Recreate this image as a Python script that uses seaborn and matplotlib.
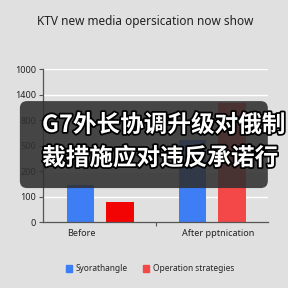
import matplotlib
matplotlib.use("Agg")
import matplotlib.pyplot as plt
import matplotlib.patheffects as pe
from matplotlib.patches import FancyBboxPatch, Patch
import seaborn as sns
import pandas as pd

categories = ["Before", "After pptnication"]
series = ["Syorathangle", "Operation strategies"]
blue_values = [145, 322]
red_values = [78, 467]
ytick_positions = [0, 100, 200, 300, 400, 500, 600]
ytick_labels = ["0", "100", "200", "500", "800", "1400", "1000"]
title = "KTV new media opersication now show"
overlay_lines = ["G7外长协调升级对俄制", "裁措施应对违反承诺行"]

sns.set_theme(style="white")
plt.rcParams['font.family'] = ['Noto Sans', 'DejaVu Sans']

bg = "#e0e0e0"
blue = "#3d7ef5"
red_before = "#f20404"
red_after = "#f44848"

df = pd.DataFrame({
    "cat": categories * 2,
    "series": [series[0]] * 2 + [series[1]] * 2,
    "value": blue_values + red_values,
})

fig = plt.figure(figsize=(2.88, 2.88), dpi=100, facecolor=bg)
ax = fig.add_axes([0.149, 0.229, 0.782, 0.531])
ax.set_facecolor(bg)

sns.barplot(data=df, x="cat", y="value", hue="series", order=categories,
            hue_order=series, palette=[blue, red_after], width=0.70, gap=0.29,
            ax=ax, legend=False, saturation=1)

for p in ax.patches:
    p.set_edgecolor("none")
bars = [p for p in ax.patches]
if len(bars) >= 4:
    bars[2].set_facecolor(red_before)

ax.set_xlim(-0.51, 1.5)
ax.set_ylim(0, 600)
ax.set_yticks(ytick_positions)
ax.set_yticklabels(ytick_labels, fontsize=6.5, color="#222222")
ax.set_xticks([-0.17, 1.05])
ax.set_xticklabels(categories, fontsize=6.5, color="#222222")
ax.set_xticks([0.5], minor=True)
ax.tick_params(axis="x", which="major", length=0, pad=5)
ax.tick_params(axis="x", which="minor", length=3, width=0.8, color="#555555", bottom=True)
ax.tick_params(axis="y", length=3, width=0.8, color="#555555", left=True, pad=2)
ax.set_xlabel("")
ax.set_ylabel("")
for y in ytick_positions[1:]:
    ax.axhline(y, color="white", lw=1.0, zorder=0)
for s in ["top", "right"]:
    ax.spines[s].set_visible(False)
for s in ["left", "bottom"]:
    ax.spines[s].set_color("#555555")
    ax.spines[s].set_linewidth(0.9)

fig.text(0.505, 0.927, title, ha="center", va="center", fontsize=8.5, color="#222222")

handles = [Patch(color=blue, label=series[0]), Patch(color=red_after, label=series[1])]
fig.legend(handles=handles, loc="center", bbox_to_anchor=(0.52, 0.066), ncol=2,
           frameon=False, fontsize=6, handlelength=0.8, handleheight=0.8,
           handletextpad=0.4, columnspacing=1.8)

box = FancyBboxPatch((0.069 + 0.025, 0.347 + 0.025), 0.861 - 0.05, 0.302 - 0.05,
                     boxstyle="round,pad=0.025", transform=fig.transFigure,
                     facecolor="#303030", alpha=0.88, edgecolor="none", zorder=10)
fig.patches.append(box)

for i, line in enumerate(overlay_lines):
    fig.text(0.146, 0.566 - i * 0.115, line, ha="left", va="center", fontsize=17,
             fontweight="bold", color="white",
             family=["Noto Sans CJK SC", "DejaVu Sans"], zorder=11,
             path_effects=[pe.withStroke(linewidth=2.5, foreground="black")])

fig.savefig("out.png", dpi=100, facecolor=bg)
